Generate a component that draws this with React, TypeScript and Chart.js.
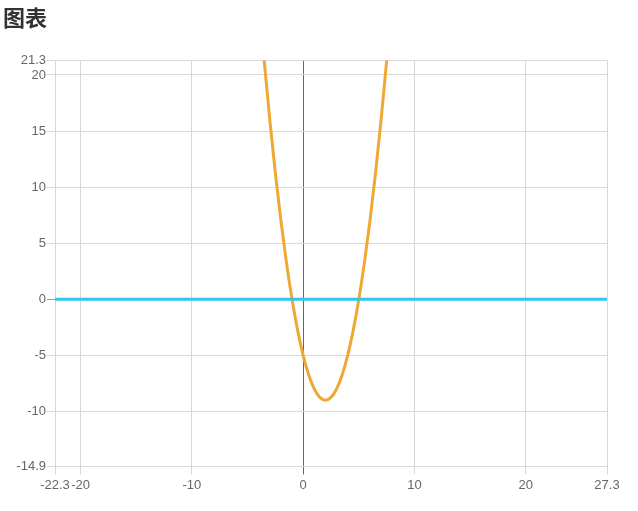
import React, { useEffect, useRef } from "react";
import { Chart, registerables } from "chart.js";

Chart.register(...registerables);

const TITLE = "图表";
const X_MIN = -22.3;
const X_MAX = 27.3;
const Y_MIN = -14.9;
const Y_MAX = 21.3;
const xTicks = [-22.3, -20, -10, 0, 10, 20, 27.3];
const yTicks = [-14.9, -10, -5, 0, 5, 10, 15, 20, 21.3];

// Curve points
const curveX = [-4, -3.5, -3, -2.5, -2, -1.5, -1, -0.5, 0, 0.5, 1, 1.5, 2, 2.5, 3, 3.5, 4, 4.5, 5, 5.5, 6, 6.5, 7, 7.5, 8];
const curveY = [27, 21.25, 16, 11.25, 7, 3.25, 0, -2.75, -5, -6.75, -8, -8.75, -9, -8.75, -8, -6.75, -5, -2.75, 0, 3.25, 7, 11.25, 16, 21.25, 27];

// Horizontal line y = 0
const lineX = [-22.3, 27.3];
const lineY = [0, 0];

const fmt = (v: any) => String(Math.round(Number(v) * 10) / 10);

export default function App() {
  const ref = useRef<HTMLCanvasElement>(null);
  useEffect(() => {
    document.body.style.margin = "0";
    const ctx = ref.current!;
    const tickFont = { size: 13, family: "'Liberation Sans', Arial, sans-serif" };
    const chart = new Chart(ctx, {
      type: "line",
      data: {
        datasets: [
          {
            data: lineX.map((x, i) => ({ x, y: lineY[i] })),
            borderColor: "#2ec8ef",
            borderWidth: 3,
            pointRadius: 0,
            tension: 0,
          },
          {
            data: curveX.map((x, i) => ({ x, y: curveY[i] })),
            borderColor: "#eea833",
            borderWidth: 3,
            pointRadius: 0,
            cubicInterpolationMode: "monotone",
          },
        ],
      },
      options: {
        animation: false,
        responsive: false,
        layout: { padding: { left: 3, right: 31, bottom: 15 } },
        plugins: {
          legend: { display: false },
          tooltip: { enabled: false },
          title: {
            display: true,
            text: TITLE,
            align: "start",
            color: "#333",
            font: { size: 22, weight: "bold", family: "'Noto Sans CJK SC', sans-serif" },
            padding: { top: 4, bottom: 30 },
          },
        },
        scales: {
          x: {
            type: "linear",
            min: X_MIN,
            max: X_MAX,
            afterBuildTicks: (s: any) => {
              s.ticks = xTicks.map((value) => ({ value }));
            },
            grid: {
              color: (c: any) => (c.tick && c.tick.value === 0 ? "#666" : "#d8d8d8"),
            },
            border: { display: false },
            ticks: { color: "#666", font: tickFont, maxRotation: 0, autoSkip: false, callback: fmt },
          },
          y: {
            type: "linear",
            min: Y_MIN,
            max: Y_MAX,
            afterBuildTicks: (s: any) => {
              s.ticks = yTicks.map((value) => ({ value }));
            },
            afterFit: (s: any) => {
              s.width = 52;
            },
            grid: {
              color: (c: any) => (c.tick && c.tick.value === 0 ? "#999" : "#d8d8d8"),
            },
            border: { display: false },
            ticks: { color: "#666", font: tickFont, padding: 1, autoSkip: false, callback: fmt },
          },
        },
      },
    });
    return () => chart.destroy();
  }, []);
  return (
    <div style={{ width: 638, height: 511 }}>
      <canvas ref={ref} width={638} height={511} />
    </div>
  );
}
